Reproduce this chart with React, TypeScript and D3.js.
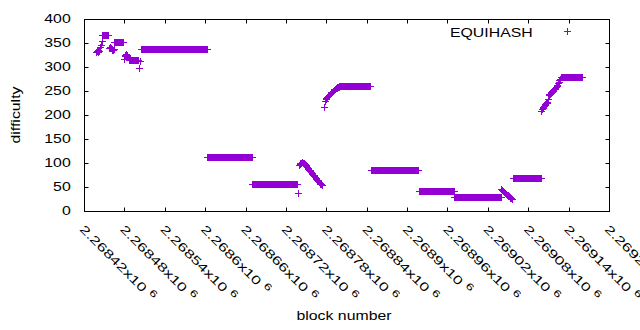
import React from "react";
import * as d3 from "d3";

// ---- data ----
// constant-difficulty runs: [first block, last block, difficulty]
const runStart = [2268448, 2268466, 2268488, 2268505, 2268604, 2268671, 2268800, 2268847, 2268918, 2268971, 2269058, 2269129];
const runEnd = [2268457, 2268478, 2268501, 2268603, 2268670, 2268737, 2268846, 2268917, 2268970, 2269040, 2269099, 2269161];
const runDifficulty = [366, 351, 314, 337, 112, 56, 259, 85, 41, 28, 68, 278];

// individual blocks outside the runs
const pointBlock = [
  2268439, 2268440, 2268441, 2268442, 2268443, 2268444, 2268446, 2268447,
  2268458, 2268459, 2268460, 2268461, 2268462, 2268463, 2268464, 2268465,
  2268480, 2268481, 2268482, 2268483, 2268484, 2268485, 2268486, 2268487,
  2268503, 2268504,
  2268738,
  2268740, 2268741, 2268742, 2268743, 2268744, 2268745, 2268746, 2268747, 2268748, 2268749,
  2268750, 2268751, 2268752, 2268753, 2268754, 2268755, 2268756, 2268757, 2268758, 2268759,
  2268760, 2268761, 2268762, 2268763, 2268764, 2268765, 2268766, 2268767, 2268768, 2268769,
  2268770, 2268771, 2268772, 2268773, 2268774, 2268775,
  2268777, 2268779, 2268780, 2268781, 2268782, 2268783, 2268784, 2268785, 2268786, 2268787,
  2268788, 2268789, 2268790, 2268791, 2268792, 2268793, 2268794, 2268795, 2268796, 2268797,
  2268798, 2268799,
  2269041, 2269042, 2269043, 2269044, 2269045, 2269046, 2269047, 2269048, 2269049, 2269050,
  2269051, 2269052, 2269053, 2269054, 2269055, 2269056, 2269057,
  2269100, 2269101, 2269102, 2269103, 2269104, 2269105, 2269106, 2269107, 2269108, 2269109,
  2269110, 2269111, 2269112, 2269113, 2269114, 2269115, 2269116, 2269117, 2269118, 2269119,
  2269120, 2269121, 2269122, 2269123, 2269124, 2269125, 2269126, 2269127, 2269128,
];
const pointDifficulty = [
  331, 333, 330, 335, 333, 340, 344, 354,
  339, 340, 338, 339, 335, 336, 334, 337,
  316, 325, 322, 327, 321, 324, 319, 318,
  297, 311,
  37,
  95, 99, 97, 100, 101, 102, 100, 99, 97, 96,
  94, 92, 91, 89, 87, 85, 84, 82, 80, 78,
  77, 75, 73, 71, 70, 68, 66, 64, 63, 61,
  59, 58, 56, 55, 54, 53,
  216, 229, 232, 235, 236, 238, 240, 241, 243, 244,
  246, 247, 249, 250, 252, 253, 254, 255, 256, 257,
  258, 258,
  44, 42, 41, 39, 38, 37, 35, 34, 33, 32,
  31, 30, 28, 27, 26, 25, 24,
  208, 212, 214, 216, 218, 219, 221, 223, 225, 227,
  233, 240, 242, 243, 245, 246, 248, 250, 251, 253,
  254, 256, 257, 259, 262, 265, 267, 271, 275,
];

const xTicks = [2268420, 2268480, 2268540, 2268600, 2268660, 2268720, 2268780, 2268840, 2268900, 2268960, 2269020, 2269080, 2269140, 2269200];
const xTickLabels = ["2.26842", "2.26848", "2.26854", "2.2686", "2.26866", "2.26872", "2.26878", "2.26884", "2.2689", "2.26896", "2.26902", "2.26908", "2.26914", "2.2692"];
const yTicks = [0, 50, 100, 150, 200, 250, 300, 350, 400];

const seriesName = "EQUIHASH";
const xTitle = "block number";
const yTitle = "difficulty";

const COLOR = "#9400d3";
const FONT = "'Liberation Sans', Arial, sans-serif";
const FS = 12;
const SX = 1.32;
const SXT = 1.42;

export default function App() {
  const left = 84, right = 609, top = 19, bottom = 211;
  const x = d3.scaleLinear().domain([2268420, 2269200]).range([left, right]);
  const y = d3.scaleLinear().domain([0, 400]).range([bottom, top]);

  const pts: [number, number][] = [];
  runStart.forEach((s, i) => {
    for (let b = s; b <= runEnd[i]; b++) pts.push([b, runDifficulty[i]]);
  });
  pointBlock.forEach((b, i) => pts.push([b, pointDifficulty[i]]));

  const plus = (p: any, cx: number, cy: number) => {
    p.moveTo(cx - 3.5, cy);
    p.lineTo(cx + 3.5, cy);
    p.moveTo(cx, cy - 3.5);
    p.lineTo(cx, cy + 3.5);
  };
  const mp = d3.path();
  pts.forEach(([b, d]) => plus(mp, Math.floor(x(b)) + 0.5, Math.floor(y(d)) + 0.5));
  const lp = d3.path();
  plus(lp, 567.5, 31.5);

  const tk = d3.path();
  yTicks.forEach((t) => {
    const yy = Math.round(y(t)) + 0.5;
    tk.moveTo(left + 0.5, yy); tk.lineTo(left + 4.5, yy);
    tk.moveTo(right + 0.5, yy); tk.lineTo(right - 3.5, yy);
  });
  xTicks.forEach((t) => {
    const xx = Math.round(x(t)) + 0.5;
    tk.moveTo(xx, bottom + 0.5); tk.lineTo(xx, bottom - 3.5);
    tk.moveTo(xx, top + 0.5); tk.lineTo(xx, top + 4.5);
  });

  return (
    <svg width={640} height={330} style={{ position: "absolute", left: 0, top: 0, background: "#fff" }}
      fontFamily={FONT} fontSize={FS}>
      <rect x={0} y={0} width={640} height={330} fill="#fff" />
      <path d={tk.toString()} stroke="#000" strokeWidth={1} fill="none" />
      <rect x={left + 0.5} y={top + 0.5} width={right - left} height={bottom - top} fill="none" stroke="#000" strokeWidth={1} />
      {yTicks.map((t) => (
        <text key={t} transform={`translate(70.7,${y(t) + 4.3}) scale(${SX},1)`} textAnchor="end" fill="#000">{t}</text>
      ))}
      {xTicks.map((t, i) => (
        <text key={t} transform={`translate(${x(t) - 5},${230}) rotate(45) scale(${SXT},1)`} textAnchor="start" fill="#000">
          {xTickLabels[i] + "x10"}
          <tspan dx={3.5} dy={-4.5} fontSize={FS * 0.8}>6</tspan>
        </text>
      ))}
      <text transform={`translate(20.2,115) rotate(-90) scale(${SX},1)`} textAnchor="middle" fill="#000">{yTitle}</text>
      <text transform={`translate(344,320) scale(${SX},1)`} textAnchor="middle" fill="#000">{xTitle}</text>
      <text transform={`translate(532.7,36.5) scale(${SX},1)`} textAnchor="end" fill="#000">{seriesName}</text>
      <path d={lp.toString()} stroke={COLOR} strokeWidth={1} fill="none" />
      <path d={mp.toString()} stroke={COLOR} strokeWidth={1} fill="none" />
    </svg>
  );
}
